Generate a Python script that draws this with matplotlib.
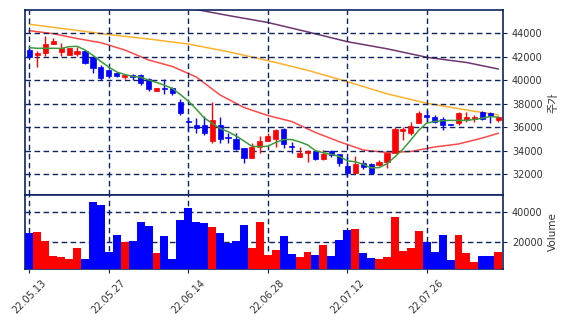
import matplotlib
matplotlib.use('Agg')
import matplotlib.pyplot as plt
import numpy as np
import pandas as pd

# 일별 시세 (22.05.13 ~ 22.08.08)
dates = ['22.05.13', '22.05.16', '22.05.17', '22.05.18', '22.05.19', '22.05.20',
         '22.05.23', '22.05.24', '22.05.25', '22.05.26', '22.05.27', '22.05.30',
         '22.05.31', '22.06.02', '22.06.03', '22.06.07', '22.06.08', '22.06.09',
         '22.06.10', '22.06.13', '22.06.14', '22.06.15', '22.06.16', '22.06.17',
         '22.06.20', '22.06.21', '22.06.22', '22.06.23', '22.06.24', '22.06.27',
         '22.06.28', '22.06.29', '22.06.30', '22.07.01', '22.07.04', '22.07.05',
         '22.07.06', '22.07.07', '22.07.08', '22.07.11', '22.07.12', '22.07.13',
         '22.07.14', '22.07.15', '22.07.18', '22.07.19', '22.07.20', '22.07.21',
         '22.07.22', '22.07.25', '22.07.26', '22.07.27', '22.07.28', '22.07.29',
         '22.08.01', '22.08.02', '22.08.03', '22.08.04', '22.08.05', '22.08.08']

opens = [42556, 42157, 42327, 43040, 42412, 42132, 42242, 42471, 41987, 41138,
         40858, 40577, 40260, 40459, 40407, 40068, 39100, 39330, 39330, 38165,
         36530, 36187, 36187, 34830, 36187, 35160, 34970, 34208, 33358, 34349,
         34830, 34970, 35818, 34400, 33490, 33780, 33980, 33300, 33980, 33720,
         32705, 32135, 32930, 32875, 32790, 33070, 33783, 35650, 35480, 36380,
         37060, 36890, 36670, 36270, 36330, 36610, 36670, 37310, 37180, 36610]
highs = [42750, 42497, 43770, 43550, 43176, 42752, 42836, 42556, 42047, 41308,
         40944, 40700, 40460, 40500, 40518, 40152, 39350, 40094, 39390, 38370,
         36891, 36750, 36950, 38115, 36840, 35480, 35480, 34210, 34630, 35252,
         35480, 35850, 35900, 34770, 34350, 34060, 34063, 34060, 34063, 33750,
         33490, 33580, 33240, 32930, 33180, 33783, 35990, 35990, 36470, 37400,
         37460, 37010, 36840, 36300, 37310, 37310, 37060, 37400, 37310, 36950]
lows = [41870, 41087, 42047, 43040, 42047, 42132, 42047, 41393, 40628, 40010,
        40150, 40290, 40070, 40010, 39610, 39074, 39080, 38794, 38710, 37036,
        35677, 35480, 35337, 34630, 34683, 34630, 34063, 32930, 33358, 33830,
        34830, 34350, 34200, 33780, 33490, 33070, 33210, 33210, 33500, 32705,
        31800, 32135, 32420, 32025, 32705, 32500, 33783, 34910, 35337, 36330,
        36470, 36330, 35760, 36180, 36210, 36470, 36470, 36610, 36330, 36470]
closes = [41987, 42327, 43040, 43320, 42752, 42752, 42471, 41478, 41053, 40152,
          40373, 40373, 40430, 40237, 39779, 39218, 39329, 39245, 38879, 37180,
          36440, 35906, 35530, 36611, 34970, 35080, 34123, 33358, 34349, 34830,
          35252, 35762, 34573, 34340, 33830, 34000, 33270, 33700, 33640, 32985,
          32135, 32850, 32645, 32135, 33070, 33783, 35818, 35818, 36102, 37180,
          36840, 36470, 36187, 36210, 37180, 36840, 36890, 36670, 36950, 36890]
volume = [26150, 26800, 20900, 11000, 10300, 9000, 16300, 9000, 46800, 44600,
          13600, 24800, 20200, 20900, 33400, 30800, 13000, 24200, 9000, 34700,
          42600, 33400, 32700, 30100, 26150, 19600, 20900, 31400, 16300, 33400,
          11650, 14950, 24200, 12300, 10300, 13600, 11650, 18250, 11000, 21500,
          28100, 28800, 13000, 9700, 9000, 10300, 36700, 14300, 16300, 27500,
          19800, 13600, 24800, 8400, 24800, 13000, 7000, 11000, 11000, 13600]

# 화면 이전 종가 (5일선 계산용)
prev_close = [42577, 43040, 43320, 42826]

# 이동평균선
ma20_idx = [0, 3, 6, 9, 12, 15, 18, 21, 24, 27, 30, 33, 36, 39, 42, 45, 48, 51, 54, 57, 59]
ma20 = [44195, 43940, 43530, 43176, 42556, 41707, 41155, 40263, 38734, 37673, 36993,
        36484, 35549, 34768, 34063, 33850, 33936, 34318, 34573, 35082, 35482]
ma60_idx = [0, 5, 10, 15, 20, 25, 30, 35, 40, 45, 50, 55, 59]
ma60 = [44739, 44306, 43864, 43490, 43057, 42412, 41656, 40832, 39864, 38836,
        38030, 37460, 37036]
ma120 = [48300, 47750, 47200, 46650, 46120, 45486, 44892, 44093, 43261, 42658,
         41936, 41495, 40943]

up_color = '#ff0000'
down_color = '#0000ff'
navy = '#0d2460'

x = np.arange(len(dates))
o = np.array(opens)
c = np.array(closes)
colors = [up_color if cc >= oo else down_color for oo, cc in zip(o, c)]

ma5 = pd.Series(prev_close + closes).rolling(5).mean().values[len(prev_close):]

fig = plt.figure(figsize=(5.68, 3.26), dpi=100)
ax1 = fig.add_axes([0.044, 0.4018, 0.8416, 0.5675])
ax2 = fig.add_axes([0.044, 0.1748, 0.8416, 0.227], sharex=ax1)

# 캔들
ax1.vlines(x, lows, highs, colors=colors, linewidth=1, zorder=3)
body_bottom = np.minimum(o, c)
body_height = np.maximum(np.abs(c - o), 40)
ax1.bar(x, body_height, bottom=body_bottom, width=0.65, color=colors,
        edgecolor=colors, linewidth=0.5, zorder=4)

# 이동평균선
ax1.plot(x, ma5, color='#3c9a3c', linewidth=1.1, zorder=5)
ax1.plot(ma20_idx, ma20, color='#ff4a4a', linewidth=1.1, zorder=2)
ax1.plot(ma60_idx, ma60, color='#ffb12e', linewidth=1.1, zorder=2)
ax1.plot(ma60_idx, ma120, color='#6e3470', linewidth=1.1, zorder=2)

# 거래량
ax2.bar(x, volume, width=1.0, color=colors, linewidth=0, zorder=3)

ax1.set_xlim(-0.55, 59.6)
ax1.set_ylim(30240, 45950)
ax2.set_ylim(0.3 * min(volume), 1.1 * max(volume))

ax1.set_yticks([32000, 34000, 36000, 38000, 40000, 42000, 44000])
ax2.set_yticks([20000, 40000])
ticks = x[::10]
ax2.set_xticks(ticks)
ax2.set_xticklabels([dates[i] for i in ticks], rotation=45, ha='center')
ax1.tick_params(axis='x', labelbottom=False, length=0)

for ax in (ax1, ax2):
    ax.yaxis.tick_right()
    ax.yaxis.set_label_position('right')
    ax.grid(True, color=navy, linestyle=(0, (4, 2.5)), linewidth=1)
    ax.set_axisbelow(False)
    for s in ax.spines.values():
        s.set_color(navy)
        s.set_linewidth(1.2)
    ax.tick_params(labelsize=7, colors='#333333', length=3)
    ax.tick_params(axis='both', color=navy)

for gl in ax1.get_xgridlines() + ax1.get_ygridlines() + ax2.get_xgridlines() + ax2.get_ygridlines():
    gl.set_zorder(1)

ax1.set_ylabel('주가', fontsize=8, color='#333333', family=['Noto Sans CJK KR', 'DejaVu Sans'])
ax2.set_ylabel('Volume', fontsize=7.5, color='#333333')

fig.savefig('out.png', dpi=100)
